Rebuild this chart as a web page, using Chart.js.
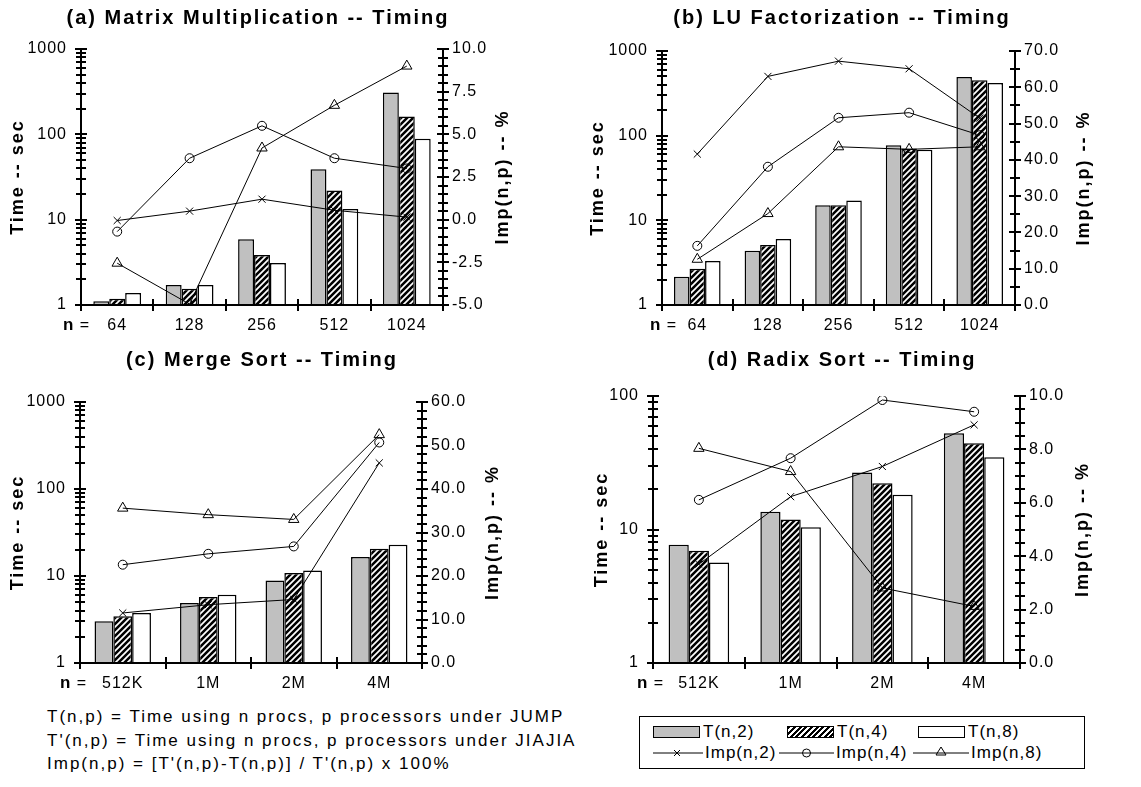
<!DOCTYPE html>
<html>
<head>
<meta charset="utf-8">
<script src="https://cdn.jsdelivr.net/npm/chart.js@4.4.1/dist/chart.umd.min.js"></script>
<style>
	body { margin: 0; width: 1141px; height: 787px; position: relative; overflow: hidden; background: #fff; color: #000; font-family: "Liberation Sans", Arial, sans-serif; }
	canvas { position: absolute; }
	.note { position: absolute; left: 47px; font-size: 17px; letter-spacing: 2px; line-height: 20px; white-space: nowrap; }
	#legend { position: absolute; left: 639px; top: 716px; width: 444px; height: 51px; border: 1.5px solid #000; }
	.li { position: absolute; font-size: 17px; letter-spacing: 1px; line-height: 20px; white-space: nowrap; }
	.sw { position: absolute; box-sizing: border-box; width: 47px; height: 12px; border: 1.5px solid #000; }
	svg.ln { position: absolute; overflow: visible; }
</style>
</head>
<body>
<canvas id="chartA" width="570" height="345" style="left:0;top:0"></canvas>
<canvas id="chartB" width="571" height="345" style="left:570px;top:0"></canvas>
<canvas id="chartC" width="570" height="360" style="left:0;top:340px"></canvas>
<canvas id="chartD" width="571" height="360" style="left:570px;top:340px"></canvas>

<div class="note" style="top:707px">T(n,p) = Time using n procs, p processors under JUMP</div>
<div class="note" style="top:731px">T'(n,p) = Time using n procs, p processors under JIAJIA</div>
<div class="note" style="top:754px">Imp(n,p) = [T'(n,p)-T(n,p)] / T'(n,p) x 100%</div>

<div id="legend">
	<div class="sw" style="left:13px;top:9px;background:#c0c0c0"></div>
	<div class="li" style="left:63px;top:5px">T(n,2)</div>
	<div class="sw" style="left:147px;top:9px;background:repeating-linear-gradient(135deg,#000 0 2px,#fff 2px 4px)"></div>
	<div class="li" style="left:197px;top:5px">T(n,4)</div>
	<div class="sw" style="left:278px;top:9px;background:#fff"></div>
	<div class="li" style="left:328px;top:5px">T(n,8)</div>

	<svg class="ln" style="left:13px;top:29px" width="50" height="14">
		<line x1="0" y1="7" x2="50" y2="7" stroke="#000" stroke-width="1"/>
		<path d="M21 4 L27 10 M27 4 L21 10" stroke="#000" stroke-width="1"/>
	</svg>
	<div class="li" style="left:65px;top:26px">Imp(n,2)</div>
	<svg class="ln" style="left:139px;top:29px" width="55" height="14">
		<line x1="0" y1="7" x2="55" y2="7" stroke="#000" stroke-width="1"/>
		<circle cx="27.5" cy="7" r="4" fill="none" stroke="#000" stroke-width="1"/>
	</svg>
	<div class="li" style="left:196px;top:26px">Imp(n,4)</div>
	<svg class="ln" style="left:273px;top:29px" width="56" height="14">
		<line x1="0" y1="7" x2="56" y2="7" stroke="#000" stroke-width="1"/>
		<path d="M28 1 L33 9 L23 9 Z" fill="none" stroke="#000" stroke-width="1"/>
	</svg>
	<div class="li" style="left:331px;top:26px">Imp(n,8)</div>
</div>

<script>
// categories
const matrixSizes = ["64", "128", "256", "512", "1024"];
const sortSizes = ["512K", "1M", "2M", "4M"];
const timeTickLabels = [1, 10, 100, 1000];

// (a) matrix multiplication
const mmT2 = [1.11, 1.71, 5.9, 38.9, 309];
const mmT4 = [1.18, 1.55, 3.85, 21.9, 162];
const mmT8 = [1.38, 1.71, 3.1, 13.3, 89];
const mmImp2 = [-0.05, 0.5, 1.2, 0.55, 0.15];
const mmImp4 = [-0.7, 3.6, 5.5, 3.6, 3.0];
const mmImp8 = [-2.55, -4.95, 4.2, 6.7, 9.0];

// (b) LU factorization
const luT2 = [2.16, 4.37, 15.1, 77, 494];
const luT4 = [2.68, 5.1, 15.1, 70.5, 451];
const luT8 = [3.3, 6.0, 17.2, 68, 420];
const luImp2 = [41.6, 63.0, 67.2, 65.1, 51.5];
const luImp4 = [16.3, 38.1, 51.6, 53.0, 46.8];
const luImp8 = [12.6, 25.2, 43.6, 42.9, 43.6];

// (c) merge sort
const msT2 = [3.01, 4.9, 8.9, 16.5];
const msT4 = [3.44, 5.74, 10.8, 20.6];
const msT8 = [3.76, 6.1, 11.6, 22.9];
const msImp2 = [11.5, 13.4, 14.6, 46.0];
const msImp4 = [22.6, 25.1, 26.8, 50.7];
const msImp8 = [35.6, 34.1, 33.0, 52.5];

// (d) radix sort
const rsT2 = [7.68, 13.6, 26.7, 52.6];
const rsT4 = [6.92, 11.9, 22.2, 44.3];
const rsT8 = [5.66, 10.4, 18.2, 34.7];
const rsImp2 = [3.7, 6.23, 7.36, 8.92];
const rsImp4 = [6.11, 7.67, 9.85, 9.41];
const rsImp8 = [8.04, 7.17, 2.81, 2.12];

const FONT = '"Liberation Sans", Arial, sans-serif';

const logTicks = (max) => {
	const out = [];
	for (let d = 1; d < max; d *= 10) {
		for (let m = 1; m < 10; m++) out.push(m * d);
	}
	out.push(max);
	return out;
};

const makeHatch = (ctx) => {
	const c = document.createElement("canvas");
	c.width = 6;
	c.height = 6;
	const x = c.getContext("2d");
	x.fillStyle = "#000";
	x.fillRect(0, 0, 6, 6);
	x.strokeStyle = "#fff";
	x.lineWidth = 1.7;
	x.beginPath();
	x.moveTo(0, 6); x.lineTo(6, 0);
	x.moveTo(-3, 3); x.lineTo(3, -3);
	x.moveTo(3, 9); x.lineTo(9, 3);
	x.stroke();
	return ctx.createPattern(c, "repeat");
};

// axes, inner half of the ticks, titles and the "n =" label
const makeDecor = (box, d) => ({
	id: "decor",
	beforeDraw(chart) {
		chart.ctx.letterSpacing = "1px";
	},
	afterDraw(chart) {
		const ctx = chart.ctx;
		const a = chart.chartArea;
		const h = a.bottom - a.top;
		ctx.save();
		ctx.fillStyle = "#000";

		const decades = Math.log10(d.timeMax);
		logTicks(d.timeMax).forEach((v) => {
			const y = Math.round(a.bottom - (Math.log10(v) / decades) * h);
			const len = timeTickLabels.includes(v) ? 6 : 5;
			ctx.fillRect(a.left - len, y - 1, len * 2, 2);
		});
		const steps = Math.round((d.impMax - d.impMin) / d.impStep);
		for (let k = 0; k <= steps; k++) {
			const y = Math.round(a.bottom - (k / steps) * h);
			const r = (k * d.impStep) / d.impMajor;
			const len = Math.abs(r - Math.round(r)) < 1e-6 ? 6 : 5;
			ctx.fillRect(a.right - len, y - 1, len * 2, 2);
		}
		const n = chart.data.labels.length;
		for (let i = 0; i <= n; i++) {
			const x = Math.round(a.left + (i * (a.right - a.left)) / n);
			ctx.fillRect(x - 1, a.bottom - 6, 2, 12);
		}
		ctx.fillRect(a.left - 1, a.top - 1, 2, h + 2);
		ctx.fillRect(a.right - 1, a.top - 1, 2, h + 2);
		ctx.fillRect(a.left - 1, a.bottom - 1, a.right - a.left + 2, 2);

		ctx.textAlign = "center";
		ctx.textBaseline = "middle";
		ctx.letterSpacing = "2px";
		ctx.font = "bold 20px " + FONT;
		ctx.fillText(box.title, box.titleX, box.titleY);

		ctx.font = "bold 18px " + FONT;
		const cy = (a.top + a.bottom) / 2;
		[[box.leftTitleX, "Time -- sec"], [box.rightTitleX, "Imp(n,p) -- %"]].forEach(([x, s]) => {
			ctx.save();
			ctx.translate(x, cy);
			ctx.rotate(-Math.PI / 2);
			ctx.fillText(s, 0, 0);
			ctx.restore();
		});

		const ly = a.bottom + 11 + 9.6;
		ctx.textAlign = "left";
		ctx.letterSpacing = "1px";
		ctx.font = "bold 17px " + FONT;
		ctx.fillText("n", box.nX, ly);
		const w = ctx.measureText("n").width;
		ctx.font = "16px " + FONT;
		ctx.fillText(" =", box.nX + w, ly);
		ctx.restore();
	},
});

const lineStyle = {
	type: "line",
	yAxisID: "y1",
	order: 1,
	borderColor: "#000",
	borderWidth: 1,
	pointBorderColor: "#000",
	pointBackgroundColor: "rgba(0,0,0,0)",
	pointBorderWidth: 1,
	tension: 0,
	fill: false,
};

const barStyle = {
	type: "bar",
	yAxisID: "y",
	order: 2,
	borderColor: "#000",
	borderWidth: 1.5,
};

// outer half of the ticks, drawn by the scales themselves
const tickGrid = { display: true, drawOnChartArea: false, drawTicks: true, tickLength: 5, color: "#000", lineWidth: 2 };

const buildChart = (id, d, box) => {
	const canvas = document.getElementById(id);
	const ctx = canvas.getContext("2d");
	const isMajor = (v) => Math.abs(v / d.impMajor - Math.round(v / d.impMajor)) < 1e-6;
	const tickFont = { family: FONT, size: 16 };

	return new Chart(ctx, {
		data: {
			labels: d.labels,
			datasets: [
				{ ...lineStyle, label: "Imp(n,2)", data: d.imp2, pointStyle: "crossRot", pointRadius: 5 },
				{ ...lineStyle, label: "Imp(n,4)", data: d.imp4, pointStyle: "circle", pointRadius: 4.5 },
				{ ...lineStyle, label: "Imp(n,8)", data: d.imp8, pointStyle: "triangle", pointRadius: 6 },
				{ ...barStyle, label: "T(n,2)", data: d.t2, backgroundColor: "#c0c0c0" },
				{ ...barStyle, label: "T(n,4)", data: d.t4, backgroundColor: makeHatch(ctx) },
				{ ...barStyle, label: "T(n,8)", data: d.t8, backgroundColor: "#ffffff" },
			],
		},
		options: {
			responsive: false,
			animation: false,
			devicePixelRatio: 1,
			layout: { padding: { top: box.top, left: 0, right: 0, bottom: 0 } },
			datasets: { bar: { categoryPercentage: 0.66, barPercentage: 1 } },
			plugins: {
				legend: { display: false },
				tooltip: { enabled: false },
			},
			scales: {
				x: {
					type: "category",
					offset: true,
					grid: { ...tickGrid, offset: true, tickLength: 6 },
					border: { display: false },
					ticks: { color: "#000", font: tickFont, padding: 5, maxRotation: 0, autoSkip: false },
					afterFit: (s) => { s.height = canvas.height - box.bottom; },
				},
				y: {
					type: "logarithmic",
					position: "left",
					min: 1,
					max: d.timeMax,
					grid: tickGrid,
					border: { display: false },
					afterBuildTicks: (s) => {
						s.ticks = logTicks(d.timeMax).map((v) => ({ value: v }));
					},
					ticks: {
						color: "#000",
						font: tickFont,
						padding: 9,
						autoSkip: false,
						callback: (v) => (timeTickLabels.includes(v) ? String(v) : ""),
					},
					afterFit: (s) => { s.width = box.left; },
				},
				y1: {
					type: "linear",
					position: "right",
					min: d.impMin,
					max: d.impMax,
					grid: tickGrid,
					border: { display: false },
					ticks: {
						color: "#000",
						font: tickFont,
						padding: 4,
						autoSkip: false,
						stepSize: d.impStep,
						callback: (v) => (isMajor(v) ? v.toFixed(1) : ""),
					},
					afterFit: (s) => { s.width = canvas.width - box.right; },
				},
			},
		},
		plugins: [makeDecor(box, d)],
	});
};

buildChart("chartA",
	{ labels: matrixSizes, t2: mmT2, t4: mmT4, t8: mmT8, imp2: mmImp2, imp4: mmImp4, imp8: mmImp8,
		timeMax: 1000, impMin: -5, impMax: 10, impStep: 0.5, impMajor: 2.5 },
	{ left: 81, right: 443, top: 49, bottom: 305, title: "(a) Matrix Multiplication -- Timing",
		titleX: 258, titleY: 18, leftTitleX: 18, rightTitleX: 503, nX: 63 });

buildChart("chartB",
	{ labels: matrixSizes, t2: luT2, t4: luT4, t8: luT8, imp2: luImp2, imp4: luImp4, imp8: luImp8,
		timeMax: 1000, impMin: 0, impMax: 70, impStep: 5, impMajor: 10 },
	{ left: 92, right: 445, top: 51, bottom: 305, title: "(b) LU Factorization -- Timing",
		titleX: 272, titleY: 18, leftTitleX: 28, rightTitleX: 514, nX: 80 });

buildChart("chartC",
	{ labels: sortSizes, t2: msT2, t4: msT4, t8: msT8, imp2: msImp2, imp4: msImp4, imp8: msImp8,
		timeMax: 1000, impMin: 0, impMax: 60, impStep: 2, impMajor: 10 },
	{ left: 80, right: 422, top: 62, bottom: 323, title: "(c) Merge Sort -- Timing",
		titleX: 262, titleY: 20, leftTitleX: 18, rightTitleX: 493, nX: 60 });

buildChart("chartD",
	{ labels: sortSizes, t2: rsT2, t4: rsT4, t8: rsT8, imp2: rsImp2, imp4: rsImp4, imp8: rsImp8,
		timeMax: 100, impMin: 0, impMax: 10, impStep: 0.5, impMajor: 2 },
	{ left: 83, right: 450, top: 56, bottom: 323, title: "(d) Radix Sort -- Timing",
		titleX: 272, titleY: 20, leftTitleX: 32, rightTitleX: 513, nX: 67 });
</script>
</body>
</html>
